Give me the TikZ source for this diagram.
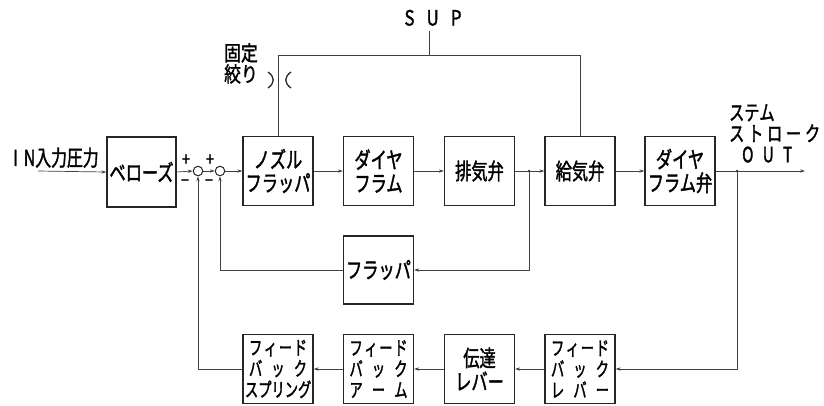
\documentclass[tikz,border=0pt]{standalone}
\usepackage{fontspec}
\setmainfont{Noto Sans CJK JP}
\newfontfamily\jp[FakeStretch=0.72,FakeBold=1.6]{Noto Sans CJK JP}
\newfontfamily\jpn[FakeStretch=0.68,FakeBold=1.6]{Noto Sans CJK JP}
\newfontfamily\jpl[FakeStretch=0.8,FakeBold=1.4]{Noto Sans CJK JP}
\usetikzlibrary{arrows.meta}
\newcommand{\spr}[2]{\makebox[#1][s]{#2}}
\begin{document}
\begin{tikzpicture}[x=1pt,y=-1pt,
  blk/.style={draw=black!85,line width=1.2pt,minimum width=70pt,minimum height=69pt,inner sep=0pt,align=center,font=\jp\fontsize{22.5}{23.5}\selectfont},
  fb/.style={blk,font=\jpn\fontsize{19.5}{21}\selectfont},
  ln/.style={draw=black!75,line width=0.7pt},
  arr/.style={ln,-{Stealth[length=5pt,width=3.2pt]}},
  sumc/.style={circle,draw=black!85,line width=1pt,minimum size=9.5pt,inner sep=0pt},
  jdot/.style={circle,fill=black!80,minimum size=2.6pt,inner sep=0pt},
  lbl/.style={inner sep=0pt,font=\jpl\fontsize{21}{21}\selectfont},
  sgn/.style={inner sep=0pt,font=\jpl\fontsize{18}{18}\selectfont}
]
\useasboundingbox (0,0) rectangle (824,405);
% top row
\node[blk,minimum width=69pt,minimum height=70pt] (bel) at (141.5,172) {ベローズ};
\node[sumc] (s1) at (198,171) {};
\node[sumc] (s2) at (220,171) {};
\node[blk] (noz) at (278,171) {ノズル\\フラッパ};
\node[blk] (dia) at (378.5,171) {ダイヤ\\フラム};
\node[blk] (exh) at (479.5,171) {排気弁};
\node[blk] (sv) at (580,171) {給気弁};
\node[blk] (dv) at (680,171) {ダイヤ\\フラム弁};
% flapper
\node[blk,minimum height=68pt] (flp) at (378.5,270) {フラッパ};
% bottom row
\node[fb] (spg) at (278,369) {\spr{58pt}{フ\hfill ィ\hfill ー\hfill ド}\\\spr{58pt}{バ\hfill ッ\hfill ク}\\\spr{66pt}{ス\hfill プ\hfill リ\hfill ン\hfill グ}};
\node[fb] (arm) at (378.5,369) {\spr{58pt}{フ\hfill ィ\hfill ー\hfill ド}\\\spr{58pt}{バ\hfill ッ\hfill ク}\\\spr{58pt}{ア\hfill ー\hfill ム}};
\node[blk] (trn) at (479.5,369) {伝達\\レバー};
\node[fb] (fbl) at (580,369) {\spr{58pt}{フ\hfill ィ\hfill ー\hfill ド}\\\spr{58pt}{バ\hfill ッ\hfill ク}\\\spr{58pt}{レ\hfill バ\hfill ー}};
% coordinates
\coordinate (in) at (38,171);
\coordinate (j1) at (529,171);
\coordinate (j2) at (737,171);
\coordinate (out) at (805,171);
\coordinate (supt) at (429,31);
\coordinate (sline) at (429,55);
% labels
\node[lbl,anchor=south west,font=\jp\fontsize{22}{22}\selectfont] (inl) at (13,168) {I\hspace{6pt}N入力圧力};
\node[lbl,anchor=south,font=\jpl\fontsize{21}{21}\selectfont] (supl) at (433,26) {\spr{57pt}{S\hfill U\hfill P}};
\node[lbl,anchor=north west,align=left] (orl) at (224,43) {固定\\絞り};
\node[lbl,anchor=north west,align=left,font=\jp\fontsize{21}{21}\selectfont] (outl) at (729,104) {\spr{44pt}{ス\hfill テ\hfill ム}\\\spr{91pt}{ス\hfill ト\hfill ロ\hfill ー\hfill ク}\\\hspace*{13pt}\spr{50pt}{O\hfill U\hfill T}};
\node[sgn] (p1) at (186,160) {+};
\node[sgn] (p2) at (210,160) {+};
\node[sgn] (m1) at (185,183) {−};
\node[sgn] (m2) at (209,183) {−};
% main path
\draw[arr] (in) -- (bel.west);
\draw[arr] (bel.east) -- (s1.west);
\draw[arr] (s1.east) -- (s2.west);
\draw[arr] (s2.east) -- (noz.west);
\draw[arr] (noz.east) -- (dia.west);
\draw[arr] (dia.east) -- (exh.west);
\draw[arr] (exh.east) -- (sv.west);
\draw[arr] (sv.east) -- (dv.west);
\draw[arr] (dv.east) -- (out);
\node[jdot] at (j1) {};
\node[jdot] at (j2) {};
% supply
\draw[ln] (supt) -- (sline);
\draw[ln] (noz.north) -- (noz.north |- sline) -- (sv.north |- sline) -- (sv.north);
% fixed orifice
\draw[ln,line width=1.3pt,draw=black!85] (268,72) .. controls (275,77) and (275,83) .. (268,88);
\draw[ln,line width=1.3pt,draw=black!85] (291,72) .. controls (284,77) and (284,83) .. (291,88);
% inner loop
\draw[arr] (j1) |- (flp.east);
\draw[arr] (flp.west) -| (s2.south);
% outer loop
\draw[arr] (j2) |- (fbl.east);
\draw[arr] (fbl.west) -- (trn.east);
\draw[arr] (trn.west) -- (arm.east);
\draw[arr] (arm.west) -- (spg.east);
\draw[arr] (spg.west) -| (s1.south);
\end{tikzpicture}
\end{document}
